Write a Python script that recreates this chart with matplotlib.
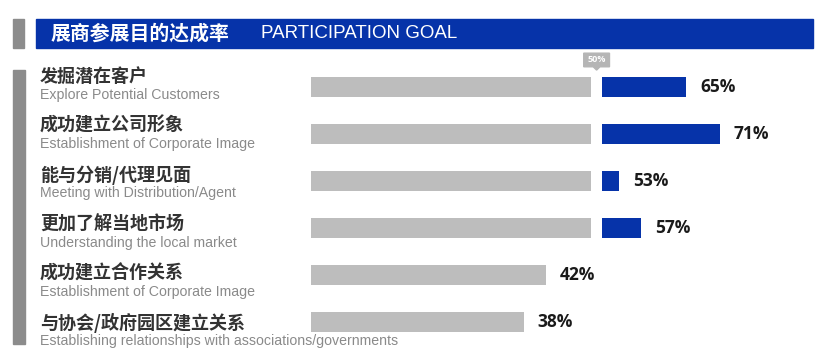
import matplotlib
matplotlib.use("Agg")
import matplotlib.pyplot as plt
from matplotlib.patches import Rectangle, Polygon
import matplotlib.transforms as mtransforms

# data
labels_cn = ["发掘潜在客户", "成功建立公司形象", "能与分销/代理见面",
             "更加了解当地市场", "成功建立合作关系", "与协会/政府园区建立关系"]
labels_en = ["Explore Potential Customers", "Establishment of Corporate Image",
             "Meeting with Distribution/Agent", "Understanding the local market",
             "Establishment of Corporate Image",
             "Establishing relationships with associations/governments"]
values = [65, 71, 53, 57, 42, 38]
threshold = 50

BLUE = "#0633a9"
GREY = "#bdbdbd"
DARK_GREY = "#8c8c8c"
W, H = 830, 358

plt.rcParams["font.family"] = ["Noto Sans CJK SC", "DejaVu Sans"]

fig = plt.figure(figsize=(W / 100, H / 100), dpi=100)

# header
fig.patches.append(Rectangle((13 / W, 1 - 48 / H), 11 / W, 29 / H,
                             transform=fig.transFigure, color=DARK_GREY))
fig.patches.append(Rectangle((36 / W, 1 - 48 / H), 777 / W, 29 / H,
                             transform=fig.transFigure, color=BLUE))
fig.text(51 / W, 1 - 33.5 / H, "展商参展目的达成率", color="white", fontsize=14.3,
         fontweight="bold", va="center", ha="left")
fig.text(261 / W, 1 - 34 / H, "PARTICIPATION GOAL", color="white", fontsize=13.5,
         family="Liberation Sans", va="center", ha="left")

# left vertical bar
fig.patches.append(Rectangle((13 / W, 1 - 344 / H), 12 / W, 274 / H,
                             transform=fig.transFigure, color=DARK_GREY))

# bar axes: 0% at x=311px, 5.6 px per %
x0, ppp = 311, 5.6
xmax = 80
y_top, row = 87, 47
n = len(values)
ax = fig.add_axes([x0 / W, 1 - (y_top + (n - 0.5) * row) / H,
                   xmax * ppp / W, n * row / H])
ax.set_xlim(0, xmax)
ax.set_ylim(n - 0.5, -0.5)
ax.axis("off")

gap = 2.0
bh = 20 / row
for i, v in enumerate(values):
    ax.barh(i, min(v, threshold), height=bh, color=GREY, left=0)
    if v > threshold:
        ax.barh(i, v - threshold, height=bh, color=BLUE, left=threshold + gap)
        end = v + gap
    else:
        end = v
    ax.text(end + 2.5, i, f"{v}%", fontsize=12.5, fontweight="bold",
            family="Open Sans", color="#1a1a1a", va="center", ha="left")

# 50% marker tag
tx = threshold + gap / 2
tag = Polygon([(tx - 2.3, -0.72), (tx + 2.3, -0.72), (tx + 2.3, -0.43),
               (tx + 0.6, -0.43), (tx, -0.36), (tx - 0.6, -0.43),
               (tx - 2.3, -0.43)], closed=True, color="#b5b5b5", clip_on=False)
ax.add_patch(tag)
ax.text(tx, -0.575, f"{threshold}%", fontsize=6.5, fontweight="bold", color="white",
        family="Open Sans", ha="center", va="center", clip_on=False)

# row labels
trans = mtransforms.blended_transform_factory(fig.transFigure, ax.transData)
for i in range(n):
    y_cn = (76 + 49.4 * i - y_top) / row
    y_en = (94.5 + 49.4 * i - y_top) / row
    ax.text(40 / W, y_cn, labels_cn[i], transform=trans, fontsize=13,
            fontweight="bold", color="#333333", va="center", ha="left")
    ax.text(40 / W, y_en, labels_en[i], transform=trans, fontsize=10.2,
            family="Liberation Sans", color="#8a8a8a", va="center", ha="left")

fig.savefig("out.png", dpi=100)
